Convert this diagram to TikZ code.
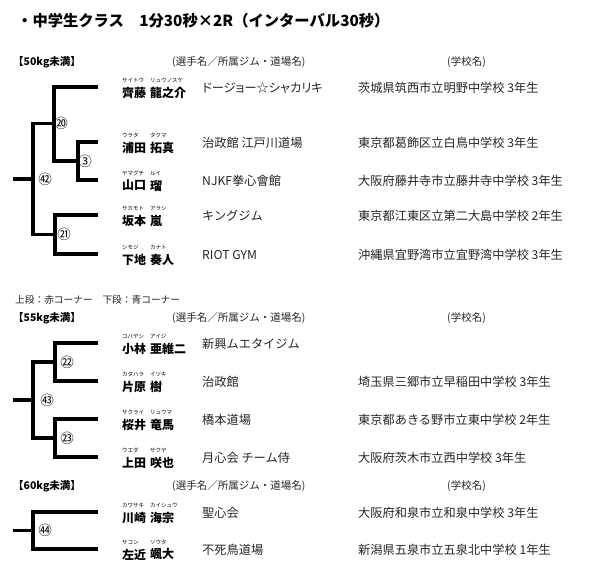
\documentclass[tikz,border=0pt]{standalone}
\usepackage{fontspec}
\setmainfont{Noto Sans CJK JP}
\newfontfamily\pfont[RawFeature=+palt]{Noto Sans CJK JP}
\newcommand\plyr[9]{%
  \node[fu] (#1f1) at (122,#2-6.5) {#3};
  \node[fu] (#1f2) at (150,#2-6.5) {#4};
  \node[nm] (#1n1) at (122,#2+5.5) {#5};
  \node[nm] (#1n2) at (150,#2+5.5) {#6};
  \node[tx] (#1c) at (202,#2+1) {#7};
  \node[tx] (#1s) at (358,#2+1) {#8};
  \coordinate (#1e) at (98,#2);
  \coordinate (#1x) at (#9,#2);
}
\begin{document}
\begin{tikzpicture}[x=1pt,y=-1pt,
  br/.style={line width=3.3pt, line join=miter, line cap=butt},
  nm/.style={anchor=west, inner sep=0pt, font=\bfseries\fontsize{12}{12}\selectfont},
  fu/.style={anchor=west, inner sep=0pt, font=\fontsize{5.5}{5.5}\selectfont},
  tx/.style={anchor=west, inner sep=0pt, font=\fontsize{12.2}{12.2}\selectfont, text=black!85},
  hd/.style={anchor=west, inner sep=0pt, font=\fontsize{10.5}{10.5}\selectfont, text=black!85},
  cat/.style={anchor=west, inner sep=0pt, font=\bfseries\fontsize{10.5}{10.5}\selectfont},
  num/.style={inner sep=0pt, font=\fontsize{13.5}{13.5}\selectfont},
]
\useasboundingbox (0,0) rectangle (597,576);
\fill[white] (0,0) rectangle (597,576);

\node[anchor=west, inner sep=0pt, font=\bfseries\fontsize{15.3}{15.3}\selectfont] (title) at (17,21) {・中学生クラス　1分30秒×2R（インターバル30秒）};

% ---- 50kg
\node[cat] (c50) at (13,62) {【50kg未満】};
\node[hd] (h50a) at (172,62) {(選手名／所属ジム・道場名)};
\node[hd] (h50b) at (447,62) {(学校名)};

\plyr{a}{87}{サイトウ}{リュウノスケ}{齊藤}{龍之介}{\pfont ドージョー☆シャカリキ}{茨城県筑西市立明野中学校 3年生}{54}
\plyr{b}{142}{ウラタ}{タクマ}{浦田}{拓真}{治政館 江戸川道場}{東京都葛飾区立白鳥中学校 3年生}{78}
\plyr{c}{180}{ヤマグチ}{ルイ}{山口}{瑠}{NJKF拳心會館}{大阪府藤井寺市立藤井寺中学校 3年生}{78}
\plyr{d}{215}{サカモト}{アラシ}{坂本}{嵐}{キングジム}{東京都江東区立第二大島中学校 2年生}{55}
\plyr{e}{254}{シモジ}{カナト}{下地}{奏人}{RIOT GYM}{沖縄県宜野湾市立宜野湾中学校 3年生}{55}

\coordinate (m3b) at (54,161);
\coordinate (m20o) at (54,123.5);
\coordinate (m21o) at (55,234.5);
\coordinate (m42a) at (33,123.5);
\coordinate (m42b) at (33,234.5);
\coordinate (m42o) at (33,179);
\coordinate (r42) at (13,179);

\draw[br] (ae) -- (ax) |- (bx |- m3b);
\draw[br] (be) -- (bx) -- (cx) -- (ce);
\draw[br] (m20o) -- (m42a) -- (m42b) -- (m21o);
\draw[br] (de) -- (dx) -- (ex) -- (ee);
\draw[br] (m42o) -- (r42);

\node[num] (n20) at (61,123.5) {⑳};
\node[num] (n3) at (85,161) {③};
\node[num] (n42) at (45,179) {㊷};
\node[num] (n21) at (64,234.5) {㉑};

% ---- 55kg
\node[hd, font=\fontsize{9.7}{9.7}\selectfont] (corner) at (15,300) {上段：赤コーナー　下段：青コーナー};
\node[cat] (c55) at (13,318) {【55kg未満】};
\node[hd] (h55a) at (172,318) {(選手名／所属ジム・道場名)};
\node[hd] (h55b) at (447,318) {(学校名)};

\plyr{f}{343}{コバヤシ}{アイジ}{小林}{亜維二}{新興ムエタイジム}{}{55}
\plyr{g}{381}{カタハラ}{イツキ}{片原}{樹}{治政館}{埼玉県三郷市立早稲田中学校 3年生}{55}
\plyr{h}{419}{サクライ}{リュウマ}{桜井}{竜馬}{橋本道場}{東京都あきる野市立東中学校 2年生}{55}
\plyr{i}{457}{ウエダ}{サクヤ}{上田}{咲也}{月心会 チーム侍}{大阪府茨木市立西中学校 3年生}{55}

\coordinate (m22o) at (55,362);
\coordinate (m23o) at (55,438);
\coordinate (m43a) at (33,362);
\coordinate (m43b) at (33,438);
\coordinate (m43o) at (33,400);
\coordinate (r43) at (13,400);

\draw[br] (fe) -- (fx) -- (gx) -- (ge);
\draw[br] (he) -- (hx) -- (ix) -- (ie);
\draw[br] (m22o) -- (m43a) -- (m43b) -- (m23o);
\draw[br] (m43o) -- (r43);

\node[num] (n22) at (67,362) {㉒};
\node[num] (n43) at (47,400) {㊸};
\node[num] (n23) at (67,438) {㉓};

% ---- 60kg
\node[cat] (c60) at (13,486) {【60kg未満】};
\node[hd] (h60a) at (172,486) {(選手名／所属ジム・道場名)};
\node[hd] (h60b) at (447,486) {(学校名)};

\plyr{j}{512}{カワサキ}{カイシュウ}{川崎}{海宗}{聖心会}{大阪府和泉市立和泉中学校 3年生}{33}
\plyr{k}{549}{サコン}{ソウタ}{左近}{颯大}{不死鳥道場}{新潟県五泉市立五泉北中学校 1年生}{33}

\coordinate (m44o) at (33,530.5);
\coordinate (r44) at (13,530.5);
\draw[br] (je) -- (jx) -- (kx) -- (ke);
\draw[br] (m44o) -- (r44);
\node[num] (n44) at (45,530.5) {㊹};
\end{tikzpicture}
\end{document}
